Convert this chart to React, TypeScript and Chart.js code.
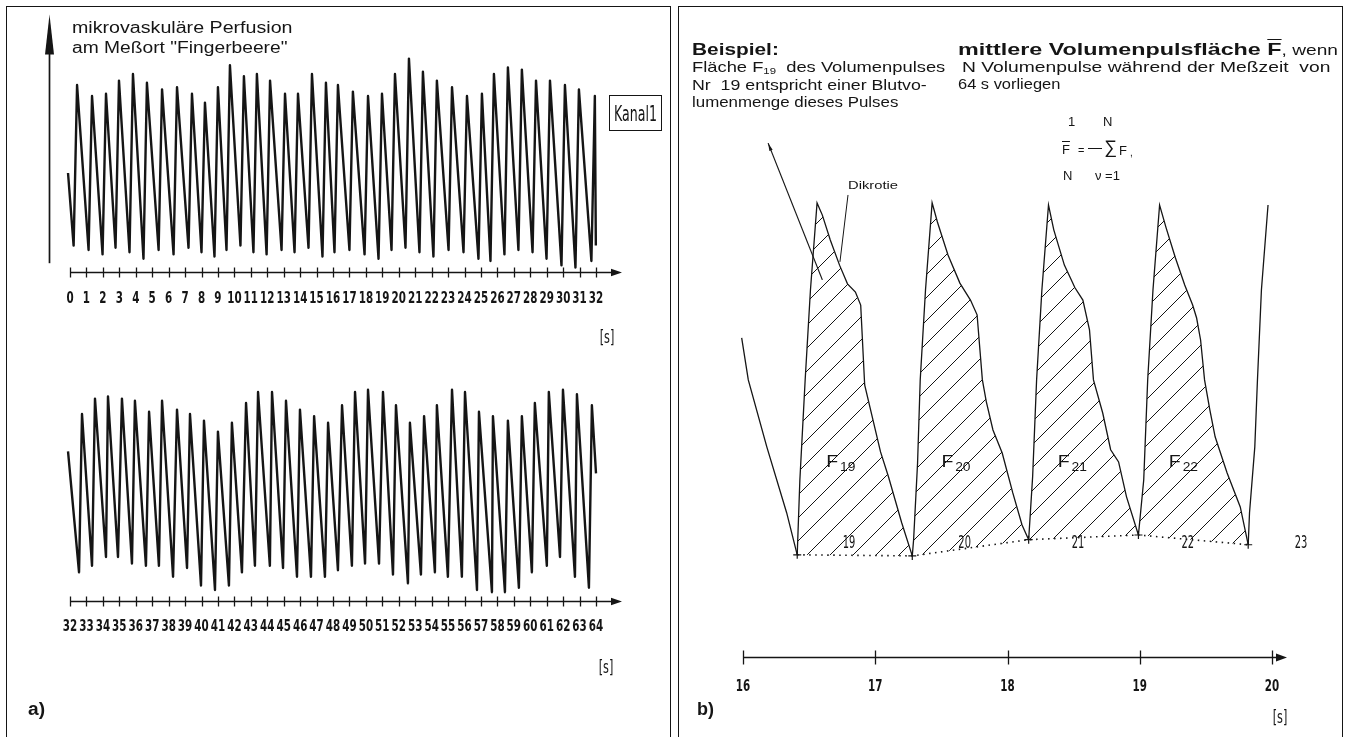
import React, { useEffect, useLayoutEffect, useRef } from "react";
import { Chart, registerables } from "chart.js";

Chart.register(...registerables);

const INK = "#151515";
const SANS = '"Liberation Sans", Arial, Helvetica, sans-serif';
const COND = '"DejaVu Sans Condensed", "DejaVu Sans", sans-serif';

// ---------------- panel a, strip 1 (0 – 32 s) ----------------
const strip1Labels = ["0","1","2","3","4","5","6","7","8","9","10","11","12","13","14","15","16","17","18","19","20","21","22","23","24","25","26","27","28","29","30","31","32"];
const strip1Start = { t: -0.12, v: 45 };
const strip1End = { t: 31.99, v: 12 };
const strip1TroughT = [0.22,1.13,1.98,2.77,3.62,4.47,5.39,6.30,7.21,8.00,8.79,9.52,10.37,11.16,11.96,12.87,13.66,14.51,15.36,16.09,17.00,17.92,18.77,19.56,20.41,21.26,22.11,23.03,23.94,24.85,25.58,26.43,27.28,28.14,28.99,29.90,30.75,31.72];
const strip1TroughV = [12,10,8,11,9,6,10,8,11,9,7,10,12,9,8,10,9,11,7,9,10,8,6,10,11,9,7,10,9,6,5,8,10,9,6,3,2,5];
const strip1PeakT = [0.43,1.34,2.19,2.98,3.83,4.68,5.60,6.51,7.42,8.21,9.00,9.73,10.58,11.37,12.17,13.08,13.87,14.72,15.57,16.30,17.21,18.13,18.98,19.77,20.62,21.47,22.32,23.24,24.15,25.06,25.79,26.64,27.49,28.35,29.20,30.11,30.96,31.93];
const strip1PeakV = [85,80,81,87,90,86,83,84,81,77,84,94,89,90,87,81,81,90,86,85,82,80,81,90,97,91,87,84,80,81,90,93,92,87,87,85,83,80];

// ---------------- panel a, strip 2 (32 – 64 s) ----------------
const strip2Labels = ["32","33","34","35","36","37","38","39","40","41","42","43","44","45","46","47","48","49","50","51","52","53","54","55","56","57","58","59","60","61","62","63","64"];
const strip2Start = { t: 31.88, v: 68 };
const strip2End = { t: 64.0, v: 58 };
const strip2TroughT = [32.55,33.34,34.19,34.92,35.77,36.62,37.41,38.27,39.12,39.97,40.82,41.67,42.46,43.25,44.16,44.96,45.81,46.66,47.51,48.30,49.15,49.95,50.80,51.65,52.56,53.35,54.20,54.99,55.84,56.76,57.67,58.46,59.31,60.10,61.01,61.81,62.72,63.57];
const strip2TroughV = [13,16,20,20,17,16,16,11,15,7,5,7,13,16,16,15,11,11,11,14,16,17,17,12,8,12,13,11,11,5,4,4,6,13,16,20,11,6];
const strip2PeakT = [32.73,33.52,34.31,35.16,35.95,36.81,37.60,38.51,39.30,40.15,41.00,41.85,42.71,43.44,44.29,45.14,45.99,46.85,47.70,48.55,49.34,50.13,51.04,51.83,52.68,53.54,54.32,55.24,56.03,56.88,57.73,58.64,59.49,60.28,61.13,61.99,62.84,63.75];
const strip2PeakV = [85,92,93,92,91,86,91,87,85,82,77,81,90,95,95,91,87,84,81,89,95,96,95,89,81,84,89,96,95,86,84,82,84,90,95,96,94,89];

// ---------------- panel b (16 – 20 s) ----------------
const zoomLabels = ["16","17","18","19","20"];
const pulseT = [15.99,16.04,16.18,16.33,16.41,16.43,16.47,16.51,16.56,16.60,16.66,16.73,16.79,16.85,16.89,16.92,17.04,17.10,17.20,17.28,17.29,17.32,17.34,17.38,17.43,17.47,17.55,17.64,17.72,17.77,17.81,17.84,17.89,17.96,18.04,18.11,18.16,18.19,18.22,18.26,18.31,18.35,18.43,18.51,18.57,18.62,18.65,18.72,18.78,18.84,18.90,18.99,19.03,19.06,19.10,19.15,19.20,19.27,19.34,19.40,19.43,19.46,19.49,19.53,19.57,19.66,19.76,19.82,19.83,19.87,19.89,19.92,19.97];
const pulseV = [61.7,50.0,31.4,13.1,1.4,22.2,50.0,75.0,99.2,95.8,88.9,81.9,76.7,74.4,70.8,48.6,30.0,23.1,10.3,1.1,5.6,26.9,50.0,75.0,99.2,93.9,84.7,76.9,72.2,68.1,50.0,43.9,36.1,29.7,18.6,9.7,5.6,23.1,50.0,75.0,98.6,91.7,81.9,75.6,72.2,63.9,50.0,40.8,30.6,27.2,17.5,6.9,22.2,50.0,75.0,98.6,92.2,83.9,76.4,70.8,67.2,61.1,50.0,41.7,34.2,24.2,14.7,4.2,13.1,31.4,50.0,75.0,98.6];
const troughIndex = [4, 19, 36, 51, 67];
const pulseNumbers = ["19","20","21","22","23"];

type Pt = { x: number; y: number };

function stripPoints(start: { t: number; v: number }, end: { t: number; v: number }, tt: number[], tv: number[], pt: number[], pv: number[]): Pt[] {
  const pts: Pt[] = [{ x: start.t, y: start.v }];
  for (let i = 0; i < tt.length; i++) {
    pts.push({ x: tt[i], y: tv[i] });
    pts.push({ x: pt[i], y: pv[i] });
  }
  pts.push({ x: end.t, y: end.v });
  return pts;
}

function drawStretched(ctx: CanvasRenderingContext2D, text: string, x: number, y: number, sy: number) {
  ctx.save();
  ctx.translate(x, y);
  ctx.scale(1, sy);
  ctx.fillText(text, 0, 0);
  ctx.restore();
}

type AxisOpts = {
  labels: string[];
  tickHalf: number;
  arrowGap: number;
  arrowHalf: number;
  labelDy: number;
  unitDx: number;
  unitDy: number;
  font: number;
  sy: number;
  yArrow?: boolean;
};

function makeAxisPlugin(o: AxisOpts) {
  return {
    id: "timeAxis",
    afterDraw(chart: any) {
      const ctx = chart.ctx as CanvasRenderingContext2D;
      const xs = chart.scales.x;
      const ys = chart.scales.y;
      const y0 = Math.round(chart.chartArea.bottom) + 0.5;
      const vals = o.labels.map(Number);
      const x0 = xs.getPixelForValue(vals[0]);
      const x1 = xs.getPixelForValue(vals[vals.length - 1]);
      const xe = x1 + o.arrowGap;
      ctx.save();
      ctx.strokeStyle = INK;
      ctx.fillStyle = INK;
      ctx.lineWidth = 1.7;
      ctx.beginPath();
      ctx.moveTo(x0, y0);
      ctx.lineTo(xe - 6, y0);
      ctx.stroke();
      ctx.beginPath();
      ctx.moveTo(xe, y0);
      ctx.lineTo(xe - 11, y0 - o.arrowHalf);
      ctx.lineTo(xe - 11, y0 + o.arrowHalf);
      ctx.closePath();
      ctx.fill();
      ctx.lineWidth = 1.3;
      for (const v of vals) {
        const x = Math.round(xs.getPixelForValue(v)) + 0.5;
        ctx.beginPath();
        ctx.moveTo(x, y0 - o.tickHalf);
        ctx.lineTo(x, y0 + o.tickHalf);
        ctx.stroke();
      }
      ctx.font = `bold ${o.font}px ${COND}`;
      ctx.textAlign = "center";
      ctx.textBaseline = "middle";
      o.labels.forEach((l, i) => drawStretched(ctx, l, xs.getPixelForValue(vals[i]), y0 + o.labelDy, o.sy));
      ctx.font = `${o.font + 1}px ${COND}`;
      drawStretched(ctx, "[s]", x1 + o.unitDx, y0 + o.unitDy, o.sy);
      if (o.yArrow) {
        const ax = Math.round(chart.chartArea.left - 21) + 0.5;
        const yb = ys.getPixelForValue(4);
        const yt = ys.getPixelForValue(117);
        ctx.lineWidth = 1.7;
        ctx.beginPath();
        ctx.moveTo(ax, yb);
        ctx.lineTo(ax, yt + 30);
        ctx.stroke();
        ctx.beginPath();
        ctx.moveTo(ax, yt);
        ctx.lineTo(ax - 4.5, yt + 40);
        ctx.lineTo(ax + 4.5, yt + 40);
        ctx.closePath();
        ctx.fill();
      }
      ctx.restore();
    },
  };
}

function stripConfig(pts: Pt[], min: number, max: number, padding: any, axis: AxisOpts): any {
  return {
    type: "line",
    data: {
      datasets: [
        {
          data: pts,
          borderColor: INK,
          borderWidth: 2.4,
          pointRadius: 0,
          fill: false,
          tension: 0,
          clip: false,
          borderJoinStyle: "round",
        },
      ],
    },
    options: {
      animation: false,
      responsive: false,
      maintainAspectRatio: false,
      events: [],
      layout: { padding },
      scales: {
        x: { type: "linear", min, max, display: false },
        y: { type: "linear", min: 0, max: 100, display: false },
      },
      plugins: { legend: { display: false }, tooltip: { enabled: false }, title: { display: false } },
    },
    plugins: [makeAxisPlugin(axis)],
  };
}

function makeHatch(ctx: CanvasRenderingContext2D): CanvasPattern | string {
  const s = 23;
  const c = document.createElement("canvas");
  c.width = s;
  c.height = s;
  const g = c.getContext("2d");
  if (!g) return "rgba(0,0,0,0)";
  g.strokeStyle = INK;
  g.lineWidth = 1;
  g.beginPath();
  g.moveTo(0, s);
  g.lineTo(s, 0);
  g.moveTo(-5, 5);
  g.lineTo(5, -5);
  g.moveTo(s - 5, s + 5);
  g.lineTo(s + 5, s - 5);
  g.stroke();
  return ctx.createPattern(c, "repeat") || "rgba(0,0,0,0)";
}

const zoomAnnotPlugin = {
  id: "zoomAnnot",
  afterDatasetsDraw(chart: any) {
    const ctx = chart.ctx as CanvasRenderingContext2D;
    const xs = chart.scales.x;
    const ys = chart.scales.y;
    const X = (t: number) => xs.getPixelForValue(t);
    const Y = (v: number) => ys.getPixelForValue(v);
    ctx.save();
    ctx.fillStyle = INK;
    ctx.strokeStyle = INK;
    // F labels
    for (let i = 0; i < troughIndex.length - 1; i++) {
      let pk = troughIndex[i];
      for (let k = troughIndex[i]; k <= troughIndex[i + 1]; k++) if (pulseV[k] > pulseV[pk]) pk = k;
      const x = X(pulseT[pk] + 0.07);
      const y = Y(27.2);
      ctx.textAlign = "left";
      ctx.textBaseline = "middle";
      ctx.save();
      ctx.translate(x, y);
      ctx.scale(1.15, 1);
      ctx.font = `17px ${SANS}`;
      ctx.fillText("F", 0, 0);
      ctx.font = `12px ${SANS}`;
      ctx.fillText(pulseNumbers[i], 12, 6);
      ctx.restore();
    }
    // pulse numbers on the baseline
    ctx.font = `11px ${COND}`;
    ctx.textAlign = "center";
    ctx.textBaseline = "middle";
    for (let i = 0; i < pulseNumbers.length; i++) {
      const a = pulseT[troughIndex[i]];
      const t = i < troughIndex.length - 1 ? a + 0.45 * (pulseT[troughIndex[i + 1]] - a) : a + 0.4;
      drawStretched(ctx, pulseNumbers[i], X(t), Y(4.7), 1.6);
    }
    // pointer from the "Beispiel" text
    ctx.lineWidth = 1.2;
    const px0 = X(16.19), py0 = Y(115.8), px1 = X(16.6), py1 = Y(77.8);
    ctx.beginPath();
    ctx.moveTo(px0, py0);
    ctx.lineTo(px1, py1);
    ctx.stroke();
    const ang = Math.atan2(py0 - py1, px0 - px1);
    ctx.beginPath();
    ctx.moveTo(px0, py0);
    ctx.lineTo(px0 - 8 * Math.cos(ang - 0.22), py0 - 8 * Math.sin(ang - 0.22));
    ctx.lineTo(px0 - 8 * Math.cos(ang + 0.22), py0 - 8 * Math.sin(ang + 0.22));
    ctx.closePath();
    ctx.fill();
    // pointer from "Dikrotie"
    ctx.lineWidth = 1;
    ctx.beginPath();
    ctx.moveTo(X(16.794), Y(101.4));
    ctx.lineTo(X(16.733), Y(82.8));
    ctx.stroke();
    ctx.restore();
  },
};

function FitText(props: { x: number; cy: number; size: number; width: number; bold?: boolean; family?: string; children: any; sy?: number }) {
  const ref = useRef<HTMLDivElement>(null);
  useLayoutEffect(() => {
    const el = ref.current;
    if (!el) return;
    const w = el.scrollWidth || 1;
    el.style.transform = `scale(${props.width / w}, ${props.sy || 1})`;
  }, []);
  return (
    <div
      ref={ref}
      style={{
        position: "absolute",
        left: props.x,
        top: props.cy - props.size * 0.52,
        fontSize: props.size,
        lineHeight: `${props.size}px`,
        fontWeight: props.bold ? "bold" : "normal",
        fontFamily: props.family || SANS,
        whiteSpace: "pre",
        color: INK,
        transformOrigin: "0 50%",
      }}
    >
      {props.children}
    </div>
  );
}

function Plain(props: { x: number; cy: number; size: number; children: any; over?: boolean }) {
  return (
    <div
      style={{
        position: "absolute",
        left: props.x,
        top: props.cy - props.size * 0.52,
        fontSize: props.size,
        lineHeight: `${props.size}px`,
        fontFamily: SANS,
        whiteSpace: "pre",
        color: INK,
        textDecoration: props.over ? "overline" : "none",
      }}
    >
      {props.children}
    </div>
  );
}

export default function App() {
  const refA = useRef<HTMLCanvasElement>(null);
  const refB = useRef<HTMLCanvasElement>(null);
  const refC = useRef<HTMLCanvasElement>(null);

  useEffect(() => {
    document.body.style.margin = "0";
    const charts: Chart[] = [];
    const axisStrip = { tickHalf: 5, arrowGap: 26, arrowHalf: 3.8, font: 11.5, sy: 1.4 };
    if (refA.current) {
      charts.push(
        new Chart(
          refA.current,
          stripConfig(
            stripPoints(strip1Start, strip1End, strip1TroughT, strip1TroughV, strip1PeakT, strip1PeakV),
            0,
            32,
            { left: 70, right: 76, top: 52, bottom: 88 },
            { ...axisStrip, labels: strip1Labels, labelDy: 26, unitDx: 11, unitDy: 66, yArrow: true }
          )
        )
      );
    }
    if (refC.current) {
      charts.push(
        new Chart(
          refC.current,
          stripConfig(
            stripPoints(strip2Start, strip2End, strip2TroughT, strip2TroughV, strip2PeakT, strip2PeakV),
            32,
            64,
            { left: 70, right: 76, top: 41, bottom: 99 },
            { ...axisStrip, labels: strip2Labels, labelDy: 25, unitDx: 10, unitDy: 67 }
          )
        )
      );
    }
    if (refB.current) {
      const ctx = refB.current.getContext("2d") as CanvasRenderingContext2D;
      const hatch = makeHatch(ctx);
      const curve: Pt[] = pulseT.map((t, i) => ({ x: t, y: pulseV[i] }));
      const lineBase = { borderColor: INK, borderWidth: 1.3, pointRadius: 0, tension: 0, clip: false };
      const datasets: any[] = [];
      datasets.push({ ...lineBase, data: curve.slice(0, troughIndex[0] + 1), fill: false });
      for (let i = 0; i < troughIndex.length - 1; i++) {
        datasets.push({
          ...lineBase,
          data: curve.slice(troughIndex[i], troughIndex[i + 1] + 1),
          fill: { target: 6 },
          backgroundColor: hatch,
        });
      }
      datasets.push({ ...lineBase, data: curve.slice(troughIndex[troughIndex.length - 1]), fill: false });
      datasets.push({
        data: troughIndex.map((k) => curve[k]),
        borderColor: INK,
        borderWidth: 1.6,
        borderDash: [1.5, 4.5],
        pointStyle: "cross",
        pointRadius: 4,
        pointBorderWidth: 1.2,
        pointBorderColor: INK,
        pointBackgroundColor: INK,
        backgroundColor: "rgba(0,0,0,0)",
        fill: false,
        tension: 0,
        clip: false,
      });
      charts.push(
        new Chart(refB.current, {
          type: "line",
          data: { datasets },
          options: {
            animation: false,
            responsive: false,
            maintainAspectRatio: false,
            events: [],
            layout: { padding: { left: 71, right: 78, top: 200, bottom: 80 } },
            scales: {
              x: { type: "linear", min: 16, max: 20, display: false },
              y: { type: "linear", min: -27, max: 100, display: false },
            },
            plugins: { legend: { display: false }, tooltip: { enabled: false }, title: { display: false } },
          },
          plugins: [
            zoomAnnotPlugin,
            makeAxisPlugin({
              labels: zoomLabels,
              tickHalf: 7,
              arrowGap: 15,
              arrowHalf: 4,
              labelDy: 29,
              unitDx: 8,
              unitDy: 61,
              font: 11.5,
              sy: 1.4,
            }),
          ],
        } as any)
      );
    }
    return () => charts.forEach((c) => c.destroy());
  }, []);

  const canvasStyle = (left: number, top: number): React.CSSProperties => ({ position: "absolute", left, top, display: "block" });

  return (
    <div style={{ position: "absolute", left: 0, top: 0, width: 1350, height: 737, overflow: "hidden", background: "#fff" }}>
      {/* panel frames */}
      <div style={{ position: "absolute", left: 6, top: 6, width: 665, height: 740, border: `1.5px solid ${INK}`, boxSizing: "border-box" }} />
      <div style={{ position: "absolute", left: 678, top: 6, width: 665, height: 740, border: `1.5px solid ${INK}`, boxSizing: "border-box" }} />

      <canvas ref={refA} width={672} height={360} style={canvasStyle(0, 0)} />
      <canvas ref={refC} width={672} height={360} style={canvasStyle(0, 340)} />
      <canvas ref={refB} width={678} height={737} style={canvasStyle(672, 0)} />

      {/* panel a texts */}
      <FitText x={72} cy={28} size={16} width={221}>mikrovaskuläre Perfusion</FitText>
      <FitText x={72} cy={48} size={16} width={215}>am Meßort "Fingerbeere"</FitText>
      <div
        style={{
          position: "absolute",
          left: 609,
          top: 95,
          width: 53,
          height: 36,
          border: `1.5px solid ${INK}`,
          boxSizing: "border-box",
          display: "flex",
          alignItems: "center",
          justifyContent: "center",
          fontFamily: COND,
          fontSize: 14,
          color: INK,
        }}
      >
        <span style={{ display: "inline-block", transform: "scale(1, 1.5)" }}>Kanal1</span>
      </div>
      <FitText x={28} cy={709} size={18} width={17} bold>a)</FitText>

      {/* panel b texts */}
      <FitText x={692} cy={50} size={17} width={87} bold>Beispiel:</FitText>
      <FitText x={692} cy={68} size={14.5} width={253}>
        Fläche F<span style={{ fontSize: "0.62em", verticalAlign: "-0.2em" }}>19</span>  des Volumenpulses
      </FitText>
      <FitText x={692} cy={86} size={14.5} width={235}>Nr  19 entspricht einer Blutvo-</FitText>
      <FitText x={692} cy={103} size={14.5} width={206}>lumenmenge dieses Pulses</FitText>

      <FitText x={958} cy={50} size={17} width={380} bold>
        mittlere Volumenpulsfläche <span style={{ textDecoration: "overline" }}>F</span>
        <span style={{ fontWeight: "normal", fontSize: "0.82em" }}>, wenn</span>
      </FitText>
      <FitText x={962} cy={68} size={14.5} width={368}>N Volumenpulse während der Meßzeit  von</FitText>
      <FitText x={958} cy={85} size={14.5} width={102}>64 s vorliegen</FitText>

      {/* formula */}
      <Plain x={1068} cy={122} size={13}>1</Plain>
      <Plain x={1103} cy={122} size={13}>N</Plain>
      <Plain x={1062} cy={150} size={13} over>F</Plain>
      <Plain x={1078} cy={151} size={11}>=</Plain>
      <div style={{ position: "absolute", left: 1088, top: 148, width: 14, height: 1.2, background: INK }} />
      <Plain x={1104} cy={147} size={18}>∑</Plain>
      <Plain x={1119} cy={151} size={13}>F</Plain>
      <Plain x={1130} cy={153} size={10}>,</Plain>
      <Plain x={1063} cy={176} size={13}>N</Plain>
      <Plain x={1095} cy={176} size={13}>ν =1</Plain>

      <FitText x={848} cy={186} size={11.5} width={50}>Dikrotie</FitText>
      <FitText x={697} cy={709} size={18} width={17} bold>b)</FitText>
    </div>
  );
}
